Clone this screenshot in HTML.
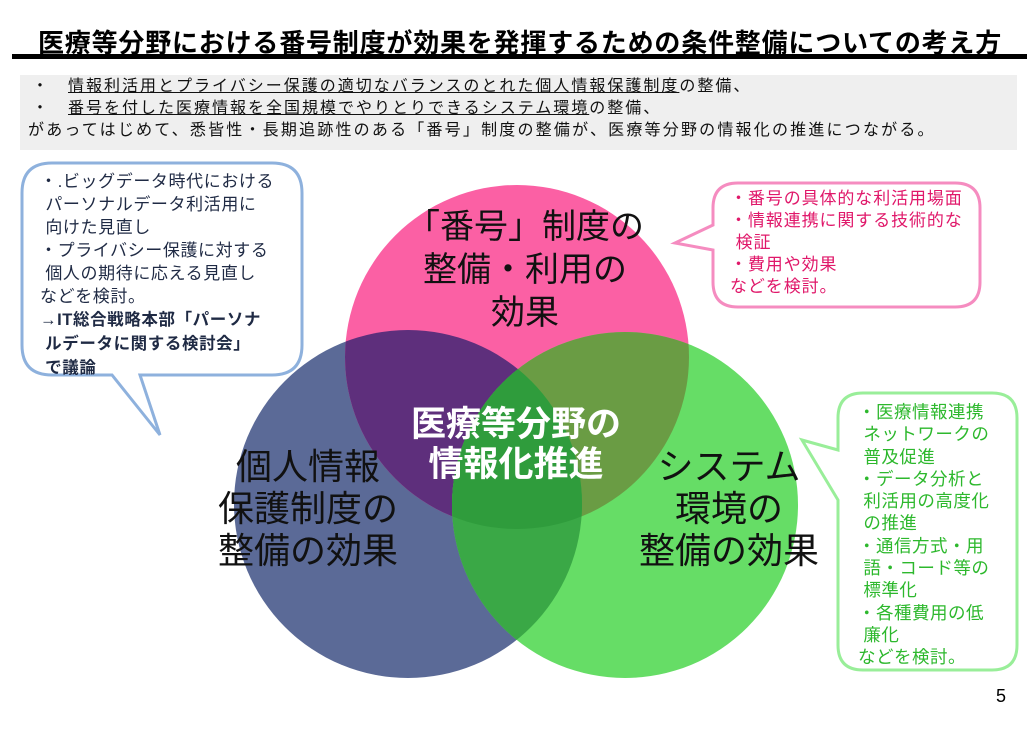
<!DOCTYPE html>
<html><head><meta charset="utf-8"><style>
body{margin:0;width:1036px;height:739px;background:#fff;overflow:hidden;position:relative;font-family:"Liberation Sans","Noto Sans CJK JP",sans-serif}
.t{position:absolute;white-space:nowrap}
</style></head><body>
<svg width="1036" height="739" style="position:absolute;left:0;top:0">
<defs>
<clipPath id="cp"><circle cx="517" cy="357" r="172"/></clipPath>
<clipPath id="cb"><circle cx="408" cy="504" r="174"/></clipPath>
<clipPath id="cpb" clip-path="url(#cp)"><circle cx="408" cy="504" r="174"/></clipPath>
</defs>
<rect x="12" y="54" width="1015" height="5" fill="#000"/>
<rect x="20" y="75" width="997" height="75" fill="#efefef"/>
<circle cx="408" cy="504" r="174" fill="#5b6a97"/>
<circle cx="517" cy="357" r="172" fill="#fb60a4"/>
<circle cx="408" cy="504" r="174" fill="#5e2f7c" clip-path="url(#cp)"/>
<circle cx="625" cy="505" r="173" fill="#66dd66"/>
<circle cx="625" cy="505" r="173" fill="#6a9c44" clip-path="url(#cp)"/>
<circle cx="625" cy="505" r="173" fill="#3aa846" clip-path="url(#cb)"/>
<circle cx="625" cy="505" r="173" fill="#2f9c3c" clip-path="url(#cpb)"/>
<path d="M52,163 H272 Q302,163 302,193 V345 Q302,375 272,375 H140 L160,435 L112,375 H52 Q22,375 22,345 V193 Q22,163 52,163 Z" fill="#fff" stroke="#8eb1dd" stroke-width="3"/>
<path d="M738,183 H955 Q980,183 980,208 V282 Q980,307 955,307 H738 Q713,307 713,282 V250 L675,243 L713,225 V208 Q713,183 738,183 Z" fill="#fff" stroke="#f58cc0" stroke-width="3"/>
<path d="M863,393 H992 Q1017,393 1017,418 V645 Q1017,670 992,670 H863 Q838,670 838,645 V500 L802,440 L838,450 V418 Q838,393 863,393 Z" fill="#fff" stroke="#99ee99" stroke-width="3"/>
</svg>
<div class="t" style="left:38px;top:23px;font-size:26px;font-weight:bold;letter-spacing:0.8px">医療等分野における番号制度が効果を発揮するための条件整備についての考え方</div>
<div class="t" style="left:32px;top:76px;font-size:16px;line-height:22px;letter-spacing:2px;color:#111">・　<u>情報利活用とプライバシー保護の適切なバランスのとれた個人情報保護制度</u>の整備、<br>・　<u>番号を付した医療情報を全国規模でやりとりできるシステム環境</u>の整備、</div>
<div class="t" style="left:28px;top:120px;font-size:16px;line-height:22px;letter-spacing:2.2px;color:#111">があってはじめて、悉皆性・長期追跡性のある「番号」制度の整備が、医療等分野の情報化の推進につながる。</div>
<div class="t" style="left:40px;top:170px;font-size:17px;line-height:23px;letter-spacing:0.6px;color:#1f2a44">・.ビッグデータ時代における<br>&nbsp;パーソナルデータ利活用に<br>&nbsp;向けた見直し<br>・プライバシー保護に対する<br>&nbsp;個人の期待に応える見直し<br>などを検討。<br><b style="font-size:16.5px">→IT総合戦略本部「パーソナ<br>&nbsp;ルデータに関する検討会」<br>&nbsp;で議論</b></div>
<div class="t" style="left:730px;top:188px;font-size:17px;line-height:22px;letter-spacing:0.9px;color:#e0186a">・番号の具体的な利活用場面<br>・情報連携に関する技術的な<br>&nbsp;検証<br>・費用や効果<br>などを検討。</div>
<div class="t" style="left:858px;top:401px;font-size:17.5px;line-height:22.3px;letter-spacing:0.5px;color:#2db82d">・医療情報連携<br>&nbsp;ネットワークの<br>&nbsp;普及促進<br>・データ分析と<br>&nbsp;利活用の高度化<br>&nbsp;の推進<br>・通信方式・用<br>&nbsp;語・コード等の<br>&nbsp;標準化<br>・各種費用の低<br>&nbsp;廉化<br>などを検討。</div>
<div class="t" style="left:375px;top:206px;width:300px;text-align:center;font-size:34px;line-height:43px;color:#111">「番号」制度の<br>整備・利用の<br>効果</div>
<div class="t" style="left:198px;top:446px;width:220px;text-align:center;font-size:36px;line-height:42px;color:#111">個人情報<br>保護制度の<br>整備の効果</div>
<div class="t" style="left:619px;top:446px;width:220px;text-align:center;font-size:36px;line-height:42px;color:#111">システム<br>環境の<br>整備の効果</div>
<div class="t" style="left:366px;top:405px;width:300px;text-align:center;font-size:35px;line-height:40px;font-weight:bold;color:#fff">医療等分野の<br>情報化推進</div>
<div class="t" style="left:996px;top:686px;font-size:18px;color:#000">5</div>
</body></html>
